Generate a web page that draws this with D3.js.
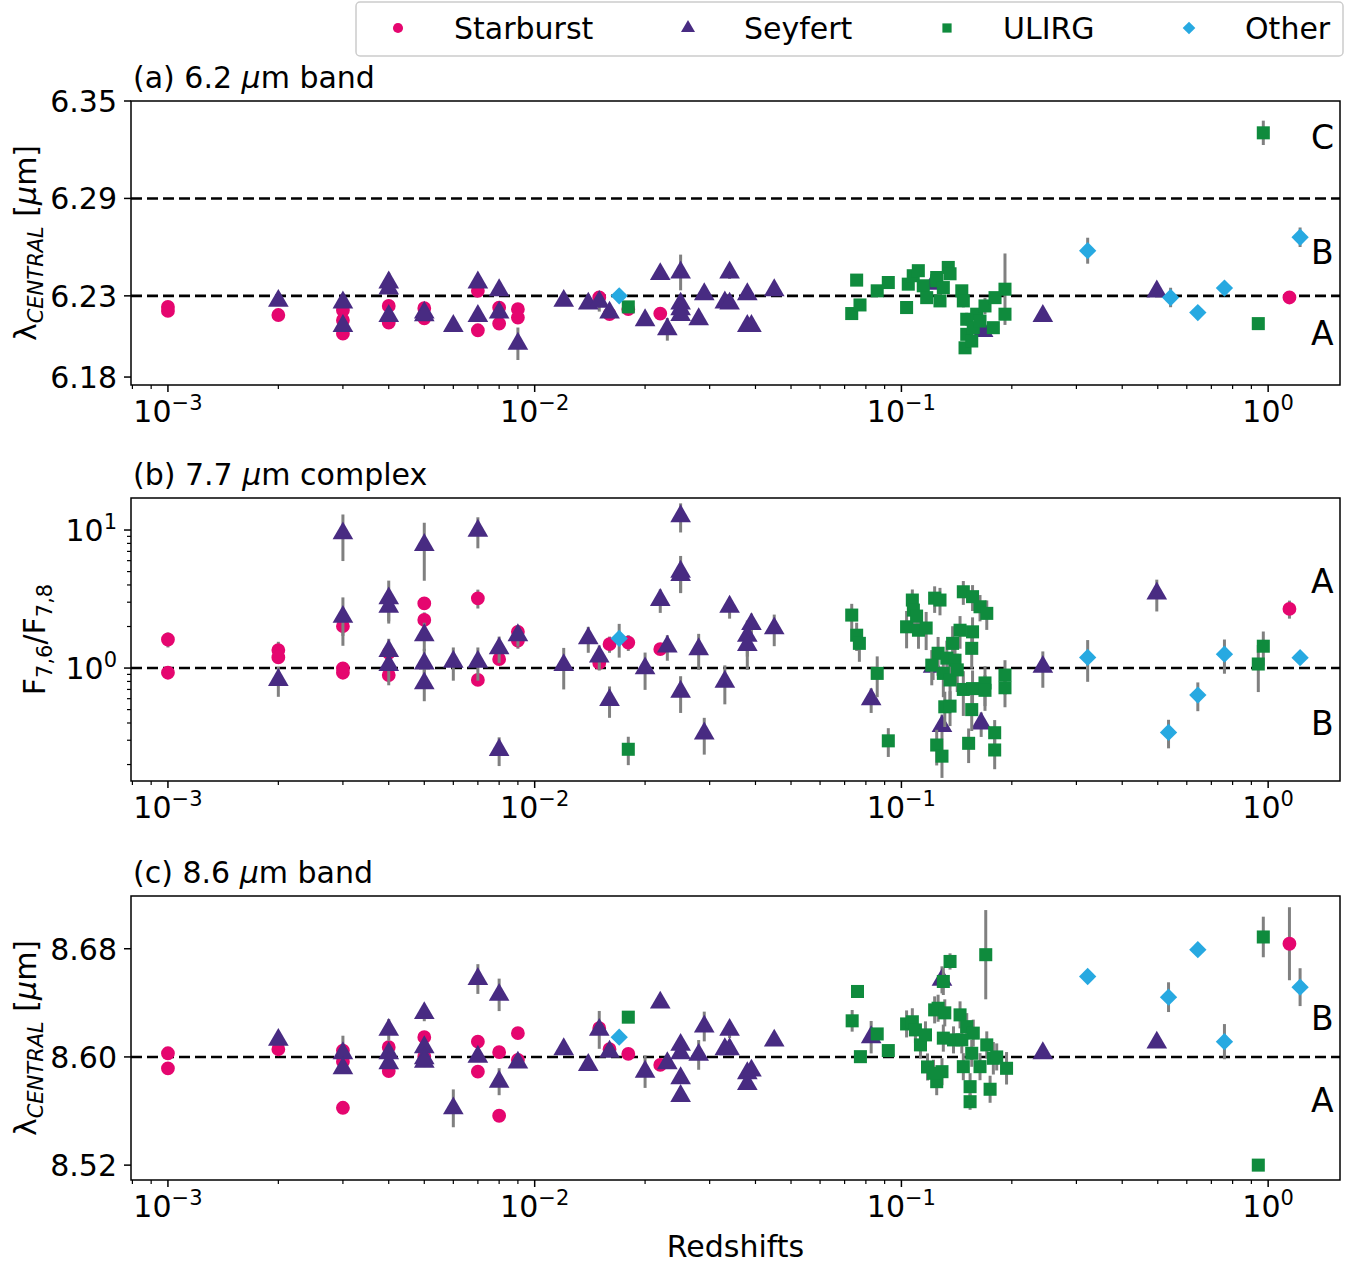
<!DOCTYPE html>
<html>
<head>
<meta charset="utf-8">
<script src="https://cdn.jsdelivr.net/npm/d3@7.9.0/dist/d3.min.js"></script>
<style>
  body { margin: 0; background: #fff; }
  svg text { font-family: "DejaVu Sans", sans-serif; fill: #000; }
</style>
</head>
<body>
<svg id="chart" width="1363" height="1265"></svg>
<script>
// [redshift, value, error]
// (a) 6.2 um band, central wavelength
const starburst62 = [
  [0.001, 6.2232, 0], [0.001, 6.2207, 0], [0.002, 6.2182, 0],
  [0.003, 6.2211, 0], [0.003, 6.215, 0], [0.003, 6.2067, 0],
  [0.004, 6.2238, 0], [0.004, 6.2135, 0], [0.005, 6.2224, 0], [0.005, 6.2162, 0],
  [0.007, 6.2331, 0], [0.007, 6.2088, 0], [0.008, 6.2228, 0], [0.008, 6.2129, 0],
  [0.009, 6.2218, 0], [0.009, 6.2166, 0], [0.015, 6.229, 0.003], [0.016, 6.2187, 0],
  [0.018, 6.2218, 0], [0.022, 6.2191, 0], [1.143, 6.229, 0]
];
const seyfert62 = [
  [0.002, 6.2269, 0.002], [0.003, 6.2259, 0.002], [0.003, 6.2114, 0.002],
  [0.004, 6.2382, 0.006], [0.004, 6.2345, 0.004], [0.004, 6.2176, 0.002],
  [0.005, 6.2197, 0.002], [0.005, 6.218, 0.002], [0.006, 6.2114, 0.002],
  [0.007, 6.2382, 0.002], [0.007, 6.2176, 0.002], [0.008, 6.2335, 0.002],
  [0.008, 6.2197, 0.003], [0.009, 6.2005, 0.01], [0.012, 6.2269, 0.002],
  [0.014, 6.2252, 0.002], [0.015, 6.2263, 0.006], [0.016, 6.2197, 0.002],
  [0.02, 6.215, 0.002], [0.022, 6.2434, 0.002], [0.023, 6.2094, 0.007],
  [0.025, 6.2444, 0.011], [0.025, 6.2252, 0.003], [0.025, 6.2218, 0.002], [0.025, 6.2182, 0.002],
  [0.028, 6.2156, 0.002], [0.029, 6.231, 0.003], [0.033, 6.2259, 0.002],
  [0.034, 6.2444, 0.004], [0.034, 6.2252, 0.002], [0.038, 6.231, 0.002],
  [0.038, 6.2114, 0.002], [0.039, 6.2114, 0.002], [0.045, 6.2335, 0.003],
  [0.122, 6.2374, 0.002], [0.167, 6.2084, 0.003], [0.243, 6.2176, 0.002], [0.497, 6.2327, 0.002]
];
const ulirg62 = [
  [0.018, 6.2232, 0.002], [0.0732, 6.2191, 0.002], [0.0755, 6.2397, 0.002], [0.0771, 6.2244, 0.002],
  [0.0859, 6.2331, 0.002], [0.0921, 6.2382, 0.002], [0.1033, 6.2228, 0.003],
  [0.1044, 6.2372, 0.003], [0.1077, 6.2424, 0.003], [0.1112, 6.2455, 0.002],
  [0.1147, 6.2362, 0.003], [0.1172, 6.2289, 0.003], [0.1248, 6.2413, 0.003],
  [0.1248, 6.2393, 0.002], [0.1342, 6.2475, 0.002], [0.1357, 6.2436, 0.003],
  [0.1301, 6.2351, 0.003], [0.1274, 6.2269, 0.003], [0.1461, 6.2331, 0.003],
  [0.1475, 6.2269, 0.004], [0.1507, 6.2156, 0.004], [0.1507, 6.2063, 0.003],
  [0.1491, 6.198, 0.003], [0.157, 6.2104, 0.004], [0.1604, 6.2187, 0.003],
  [0.169, 6.2238, 0.005], [0.18, 6.2289, 0.003], [0.1781, 6.2104, 0.003],
  [0.1916, 6.2341, 0.022], [0.1916, 6.2187, 0.003], [0.1555, 6.2022, 0.003],
  [0.1638, 6.2145, 0.003], [0.94, 6.2129, 0.002], [0.97, 6.3304, 0.0075]
];
const other62 = [
  [0.017, 6.23, 0.003], [0.322, 6.2578, 0.008], [0.542, 6.229, 0.006],
  [0.643, 6.2197, 0.002], [0.76, 6.2348, 0.002], [1.222, 6.2661, 0.006]
];

// (b) 7.7 um complex, F7.6 / F7.8
const starburst77 = [
  [0.001, 1.61, 0.2], [0.001, 0.925, 0.05], [0.002, 1.35, 0.2], [0.002, 1.195, 0.1],
  [0.003, 2.01, 0.3], [0.003, 0.995, 0.08], [0.003, 0.925, 0.05],
  [0.004, 1.29, 0.2], [0.004, 0.89, 0.1], [0.005, 2.94, 0.3], [0.005, 2.23, 0.3],
  [0.007, 3.2, 0.5], [0.007, 0.82, 0.05], [0.008, 1.16, 0.1],
  [0.009, 1.83, 0.2], [0.009, 1.58, 0.2], [0.015, 1.09, 0.1], [0.016, 1.49, 0.2],
  [0.018, 1.53, 0.2], [0.022, 1.37, 0.1], [1.143, 2.68, 0.4]
];
const seyfert77 = [
  [0.002, 0.819, 0.2], [0.003, 9.46, 3.5], [0.003, 2.35, 0.9],
  [0.004, 3.2, 1.1], [0.004, 2.78, 0.6], [0.004, 1.33, 0.3], [0.004, 1.05, 0.3],
  [0.005, 7.79, 3.5], [0.005, 1.73, 0.4], [0.005, 1.08, 0.3], [0.005, 0.775, 0.2],
  [0.006, 1.11, 0.3], [0.007, 9.87, 2.5], [0.007, 1.11, 0.3],
  [0.008, 1.39, 0.3], [0.008, 0.255, 0.06], [0.009, 1.73, 0.3],
  [0.012, 1.05, 0.35], [0.014, 1.64, 0.35], [0.015, 1.21, 0.25], [0.016, 0.586, 0.15],
  [0.02, 0.995, 0.3], [0.022, 3.11, 0.6], [0.023, 1.43, 0.3],
  [0.025, 12.6, 3], [0.025, 4.99, 1.5], [0.025, 4.72, 1.2], [0.025, 0.673, 0.2],
  [0.028, 1.37, 0.4], [0.029, 0.336, 0.1], [0.033, 0.796, 0.25], [0.034, 2.78, 0.5],
  [0.038, 1.71, 0.5], [0.038, 1.47, 0.5], [0.039, 2.08, 0.4], [0.045, 1.94, 0.5],
  [0.0827, 0.593, 0.12], [0.122, 1.02, 0.2], [0.129, 0.38, 0.08], [0.165, 0.397, 0.08],
  [0.243, 1.02, 0.3], [0.497, 3.47, 0.9]
];
const ulirg77 = [
  [0.018, 0.258, 0.06], [0.0732, 2.42, 0.5], [0.0755, 1.73, 0.4], [0.0768, 1.51, 0.4],
  [0.0859, 0.915, 0.3], [0.0921, 0.297, 0.07], [0.1033, 1.99, 0.6], [0.1071, 3.11, 0.6],
  [0.1078, 2.63, 0.6], [0.11, 2.38, 0.6], [0.1113, 1.88, 0.5], [0.1168, 1.95, 0.6],
  [0.1232, 3.21, 0.7], [0.1274, 3.11, 0.7], [0.1475, 3.57, 0.7], [0.1563, 3.29, 0.7],
  [0.1638, 2.78, 0.6], [0.1709, 2.49, 0.6], [0.1445, 1.88, 0.5], [0.1563, 1.83, 0.5],
  [0.1379, 1.51, 0.5], [0.1555, 1.39, 0.4], [0.1259, 1.28, 0.4], [0.133, 1.18, 0.4],
  [0.1301, 0.915, 0.3], [0.1357, 0.82, 0.3], [0.1475, 0.7, 0.25], [0.1563, 0.71, 0.25],
  [0.169, 0.78, 0.25], [0.169, 0.69, 0.2], [0.1916, 0.89, 0.25], [0.1916, 0.72, 0.2],
  [0.1313, 0.524, 0.15], [0.1357, 0.53, 0.15], [0.1555, 0.5, 0.15], [0.1248, 0.277, 0.08],
  [0.129, 0.23, 0.07], [0.1525, 0.285, 0.08], [0.1796, 0.34, 0.08], [0.1796, 0.255, 0.07],
  [0.121, 1.05, 0.3], [0.14, 1.14, 0.3], [0.142, 0.97, 0.3],
  [0.94, 1.07, 0.4], [0.97, 1.44, 0.4]
];
const other77 = [
  [0.017, 1.64, 0.45], [0.322, 1.195, 0.4], [0.535, 0.342, 0.08],
  [0.643, 0.637, 0.15], [0.76, 1.26, 0.35], [1.222, 1.19, 0.1]
];

// (c) 8.6 um band, central wavelength
const starburst86 = [
  [0.001, 8.6027, 0.002], [0.001, 8.5916, 0], [0.002, 8.6057, 0],
  [0.003, 8.6047, 0], [0.003, 8.5965, 0], [0.003, 8.5624, 0],
  [0.004, 8.6072, 0], [0.004, 8.5896, 0], [0.005, 8.6146, 0], [0.005, 8.6002, 0],
  [0.007, 8.6113, 0], [0.007, 8.5891, 0], [0.008, 8.6035, 0], [0.008, 8.5565, 0],
  [0.009, 8.6176, 0], [0.009, 8.5978, 0], [0.015, 8.6213, 0.003], [0.016, 8.6057, 0],
  [0.018, 8.6022, 0], [0.022, 8.5941, 0], [1.143, 8.6837, 0.027]
];
const seyfert86 = [
  [0.002, 8.6126, 0.002], [0.003, 8.6027, 0.013], [0.003, 8.5916, 0.003],
  [0.004, 8.62, 0.008], [0.004, 8.6027, 0.004], [0.004, 8.5953, 0.003],
  [0.005, 8.6324, 0.006], [0.005, 8.6072, 0.003], [0.005, 8.599, 0.003], [0.005, 8.5965, 0.004],
  [0.006, 8.562, 0.014], [0.007, 8.6576, 0.011], [0.007, 8.6002, 0.002],
  [0.008, 8.6459, 0.012], [0.008, 8.5817, 0.01], [0.009, 8.5958, 0.002],
  [0.012, 8.6057, 0.002], [0.014, 8.5941, 0.002], [0.015, 8.62, 0.014], [0.016, 8.6039, 0.002],
  [0.02, 8.5891, 0.012], [0.022, 8.6402, 0.002], [0.023, 8.5953, 0.002],
  [0.025, 8.6089, 0.003], [0.025, 8.6027, 0.002], [0.025, 8.5842, 0.002], [0.025, 8.5711, 0.002],
  [0.028, 8.6015, 0.011], [0.029, 8.6225, 0.011], [0.033, 8.6057, 0.004],
  [0.034, 8.6057, 0.004], [0.034, 8.62, 0.006], [0.038, 8.5879, 0.004], [0.038, 8.58, 0.002],
  [0.039, 8.5899, 0.002], [0.045, 8.6121, 0.002], [0.0827, 8.6146, 0.012],
  [0.129, 8.657, 0.01], [0.243, 8.6027, 0.004], [0.497, 8.6106, 0.004]
];
const ulirg86 = [
  [0.018, 8.6294, 0], [0.0759, 8.6484, 0.004], [0.0734, 8.6267, 0.008], [0.0773, 8.6002, 0.002],
  [0.0859, 8.617, 0.004], [0.0921, 8.6047, 0.002], [0.1033, 8.6244, 0.01], [0.1071, 8.626, 0.01],
  [0.1092, 8.62, 0.01], [0.1127, 8.6089, 0.01], [0.1163, 8.6163, 0.01], [0.1178, 8.5926, 0.01],
  [0.1232, 8.6348, 0.01], [0.1357, 8.6706, 0.006], [0.1698, 8.6756, 0.033], [0.1301, 8.6558, 0.01],
  [0.1259, 8.636, 0.01], [0.1313, 8.6326, 0.01], [0.1445, 8.6311, 0.01], [0.1507, 8.6224, 0.01],
  [0.157, 8.6176, 0.01], [0.1301, 8.6139, 0.01], [0.1387, 8.6126, 0.01], [0.1461, 8.6126, 0.01],
  [0.1709, 8.6089, 0.01], [0.1555, 8.6027, 0.01], [0.1781, 8.599, 0.012], [0.1475, 8.5928, 0.01],
  [0.1638, 8.5928, 0.01], [0.1935, 8.5916, 0.012], [0.129, 8.5891, 0.01], [0.1248, 8.5817, 0.01],
  [0.1539, 8.578, 0.01], [0.1745, 8.5761, 0.01], [0.1539, 8.5669, 0.006], [0.1223, 8.5879, 0.01],
  [0.1819, 8.6, 0.01], [0.94, 8.52, 0], [0.97, 8.6887, 0.015]
];
const other86 = [
  [0.017, 8.6146, 0.003], [0.322, 8.6595, 0], [0.535, 8.6442, 0.011],
  [0.643, 8.6793, 0], [0.76, 8.6113, 0.013], [1.222, 8.6516, 0.014]
];

const classNames = ['Starburst', 'Seyfert', 'ULIRG', 'Other'];
const classColors = ['#e5066f', '#482b82', '#0f8b3d', '#27a9e1'];
const classSymbols = [d3.symbolCircle, d3.symbolTriangle, d3.symbolSquare, d3.symbolSquare];

const xTicks = [1e-3, 1e-2, 1e-1, 1e0];
const xTickExp = ['\u22123', '\u22122', '\u22121', '0'];
const yTicks62 = [6.18, 6.23, 6.29, 6.35];
const yTicks77 = [1, 10];
const yTicks86 = [8.52, 8.60, 8.68];
const refLines62 = [6.23, 6.29];
const refLines77 = [1];
const refLines86 = [8.60];

const FS = 30, FS_SMALL = 21;
const svg = d3.select('#chart');
const left = 131, right = 1340;
const x = d3.scaleLog().domain([7.93e-4, 1.57]).range([left, right]);

const panels = [
  { top: 101, bottom: 385, y: d3.scaleLinear().domain([6.1751, 6.35]),
    series: [starburst62, seyfert62, ulirg62, other62], ticks: yTicks62, fmt: d3.format('.2f'),
    lines: refLines62, title: ['(a) 6.2 ', '\u03bc', 'm band'],
    regions: [['C', 6.3277], ['B', 6.2572], ['A', 6.2071]], label: 'lambda' },
  { top: 498, bottom: 781, y: d3.scaleLog().domain([0.152, 17.06]),
    series: [starburst77, seyfert77, ulirg77, other77], ticks: yTicks77, log: true,
    lines: refLines77, title: ['(b) 7.7 ', '\u03bc', 'm complex'],
    regions: [['A', 4.27], ['B', 0.40]], label: 'ratio' },
  { top: 896, bottom: 1180, y: d3.scaleLinear().domain([8.509, 8.719]),
    series: [starburst86, seyfert86, ulirg86, other86], ticks: yTicks86, fmt: d3.format('.2f'),
    lines: refLines86, title: ['(c) 8.6 ', '\u03bc', 'm band'],
    regions: [['B', 8.6289], ['A', 8.5681]], label: 'lambda' }
];

function marker(i, size) {
  return d3.symbol().type(classSymbols[i]).size(size)();
}
const markerSize = [150, 185, 170, 150];

panels.forEach((p) => {
  const y = p.y.range([p.bottom, p.top]);
  const g = svg.append('g');

  // x axis
  const xAxis = g.append('g').attr('transform', `translate(0,${p.bottom})`);
  const minor = [];
  for (let e = -4; e <= 0; e++) for (let m = 2; m <= 9; m++) {
    const v = m * Math.pow(10, e);
    if (v >= x.domain()[0] && v <= x.domain()[1]) minor.push(v);
  }
  xAxis.selectAll('.mn').data(minor).join('line')
    .attr('x1', d => x(d)).attr('x2', d => x(d)).attr('y1', 0).attr('y2', 4)
    .attr('stroke', '#000').attr('stroke-width', 1.2);
  xAxis.selectAll('.mj').data(xTicks).join('line')
    .attr('x1', d => x(d)).attr('x2', d => x(d)).attr('y1', 0).attr('y2', 7)
    .attr('stroke', '#000').attr('stroke-width', 1.5);
  xTicks.forEach((t, i) => {
    const txt = xAxis.append('text').attr('x', x(t)).attr('y', 37)
      .attr('text-anchor', 'middle').attr('font-size', FS);
    txt.append('tspan').text('10');
    txt.append('tspan').attr('dy', -12).attr('font-size', FS_SMALL).text(xTickExp[i]);
  });

  // y axis
  const yAxis = g.append('g').attr('transform', `translate(${left},0)`);
  if (p.log) {
    const yminor = [];
    for (let e = -1; e <= 1; e++) for (let m = 2; m <= 9; m++) {
      const v = m * Math.pow(10, e);
      if (v >= y.domain()[0] && v <= y.domain()[1]) yminor.push(v);
    }
    yAxis.selectAll('.mn').data(yminor).join('line')
      .attr('x1', -4).attr('x2', 0).attr('y1', d => y(d)).attr('y2', d => y(d))
      .attr('stroke', '#000').attr('stroke-width', 1.2);
  }
  yAxis.selectAll('.mj').data(p.ticks).join('line')
    .attr('x1', -7).attr('x2', 0).attr('y1', d => y(d)).attr('y2', d => y(d))
    .attr('stroke', '#000').attr('stroke-width', 1.5);
  p.ticks.forEach((t) => {
    const txt = yAxis.append('text').attr('x', -14).attr('y', y(t) + 11)
      .attr('text-anchor', 'end').attr('font-size', FS);
    if (p.log) {
      txt.append('tspan').text('10');
      txt.append('tspan').attr('dy', -12).attr('font-size', FS_SMALL).text(Math.round(Math.log10(t)));
    } else {
      txt.text(p.fmt(t));
    }
  });

  // reference lines
  g.selectAll('.ref').data(p.lines).join('line')
    .attr('x1', left).attr('x2', right).attr('y1', d => y(d)).attr('y2', d => y(d))
    .attr('stroke', '#000').attr('stroke-width', 2.6).attr('stroke-dasharray', '11,5');

  // data
  p.series.forEach((data, i) => {
    const layer = g.append('g');
    layer.selectAll('line').data(data.filter(d => d[2] > 0)).join('line')
      .attr('x1', d => x(d[0])).attr('x2', d => x(d[0]))
      .attr('y1', d => y(Math.max(d[1] - d[2], 1e-3))).attr('y2', d => y(d[1] + d[2]))
      .attr('stroke', '#808080').attr('stroke-width', 3);
    layer.selectAll('path').data(data).join('path')
      .attr('d', marker(i, markerSize[i]))
      .attr('transform', d => `translate(${x(d[0])},${y(d[1])})` + (i === 3 ? ' rotate(45)' : ''))
      .attr('fill', classColors[i]);
  });

  // region letters
  p.regions.forEach(([s, v]) => {
    g.append('text').attr('x', 1311).attr('y', y(v) + 12).attr('font-size', 33).text(s);
  });

  // frame
  g.append('rect').attr('x', left).attr('y', p.top)
    .attr('width', right - left).attr('height', p.bottom - p.top)
    .attr('fill', 'none').attr('stroke', '#000').attr('stroke-width', 1.5);

  // title
  const tt = g.append('text').attr('x', 133).attr('y', p.top - 13).attr('font-size', FS);
  tt.append('tspan').text(p.title[0]);
  tt.append('tspan').attr('font-style', 'italic').text(p.title[1]);
  tt.append('tspan').text(p.title[2]);

  // y label
  const cy = (p.top + p.bottom) / 2;
  if (p.label === 'lambda') {
    const yl = g.append('text').attr('transform', `translate(36,${cy}) rotate(-90)`)
      .attr('text-anchor', 'middle').attr('font-size', FS);
    yl.append('tspan').text('\u03bb');
    yl.append('tspan').attr('font-size', FS_SMALL).attr('font-style', 'italic').attr('dy', 7).text('CENTRAL');
    yl.append('tspan').attr('dy', -7).text(' [');
    yl.append('tspan').attr('font-style', 'italic').text('\u03bc');
    yl.append('tspan').text('m]');
  } else {
    const yl = g.append('text').attr('transform', `translate(45,${cy}) rotate(-90)`)
      .attr('text-anchor', 'middle').attr('font-size', FS);
    yl.append('tspan').text('F');
    yl.append('tspan').attr('font-size', FS_SMALL).attr('dy', 7).text('7,6');
    yl.append('tspan').attr('dy', -7).text('/F');
    yl.append('tspan').attr('font-size', FS_SMALL).attr('dy', 7).text('7,8');
  }
});

// x label
svg.append('text').attr('x', (left + right) / 2).attr('y', 1257)
  .attr('text-anchor', 'middle').attr('font-size', FS).text('Redshifts');

// legend
const legend = svg.append('g');
legend.append('rect').attr('x', 356).attr('y', 2).attr('width', 987).attr('height', 54)
  .attr('rx', 4).attr('fill', '#fff').attr('stroke', '#cccccc').attr('stroke-width', 1.5);
const legX = [398, 688, 947, 1189];
classNames.forEach((name, i) => {
  legend.append('path').attr('d', marker(i, [80, 85, 85, 80][i]))
    .attr('transform', `translate(${legX[i]},28)` + (i === 3 ? ' rotate(45)' : ''))
    .attr('fill', classColors[i]);
  legend.append('text').attr('x', legX[i] + 56).attr('y', 39).attr('font-size', FS).text(name);
});
</script>
</body>
</html>
